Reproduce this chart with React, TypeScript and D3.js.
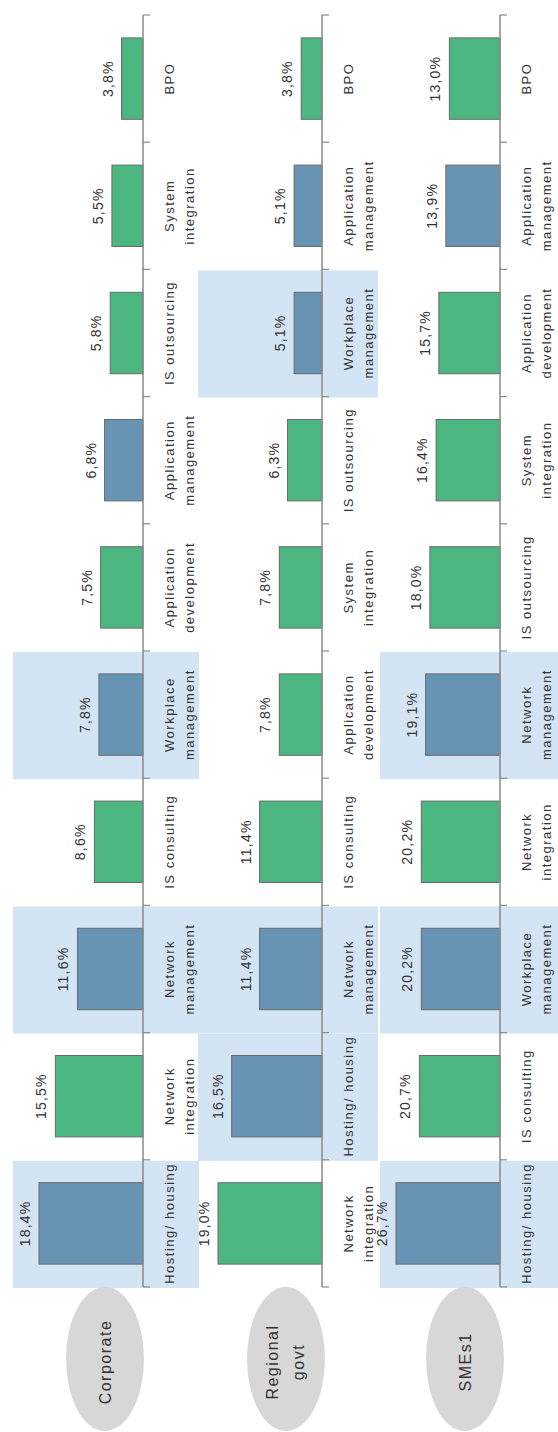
import React from "react";
import * as d3 from "d3";

// Data (ordered bottom -> top as drawn, i.e. left -> right in the unrotated chart)
const corporateCategories = [
  "Hosting/ housing",
  "Network integration",
  "Network management",
  "IS consulting",
  "Workplace management",
  "Application development",
  "Application management",
  "IS outsourcing",
  "System integration",
  "BPO",
];
const corporateValues = [18.4, 15.5, 11.6, 8.6, 7.8, 7.5, 6.8, 5.8, 5.5, 3.8];

const regionalCategories = [
  "Network integration",
  "Hosting/ housing",
  "Network management",
  "IS consulting",
  "Application development",
  "System integration",
  "IS outsourcing",
  "Workplace management",
  "Application management",
  "BPO",
];
const regionalValues = [19.0, 16.5, 11.4, 11.4, 7.8, 7.8, 6.3, 5.1, 5.1, 3.8];

const smeCategories = [
  "Hosting/ housing",
  "IS consulting",
  "Workplace management",
  "Network integration",
  "Network management",
  "IS outsourcing",
  "System integration",
  "Application development",
  "Application management",
  "BPO",
];
const smeValues = [26.7, 20.7, 20.2, 20.2, 19.1, 18.0, 16.4, 15.7, 13.9, 13.0];

const panelNames = [["Corporate"], ["Regional", "govt"], ["SMEs1"]];

const blueCategories = [
  "Hosting/ housing",
  "Network management",
  "Workplace management",
  "Application management",
];
const highlightedCategories = [
  "Hosting/ housing",
  "Network management",
  "Workplace management",
];

const labelLines: Record<string, string[]> = {
  "Hosting/ housing": ["Hosting/ housing"],
  "Network integration": ["Network", "integration"],
  "Network management": ["Network", "management"],
  "IS consulting": ["IS consulting"],
  "Workplace management": ["Workplace", "management"],
  "Application development": ["Application", "development"],
  "Application management": ["Application", "management"],
  "IS outsourcing": ["IS outsourcing"],
  "System integration": ["System", "integration"],
  BPO: ["BPO"],
};

// Layout
const W = 558;
const H = 1432;
const axisTop = 15;
const axisBottom = 1287;
const panelAxisX = [143, 322, 500];
const hlLeft = [13, 198, 380];
const hlRight = [199, 378, 558];
const barMaxLen = 104;

const BLUE = "#6794b4";
const GREEN = "#4bb67f";
const HL = "#d3e4f4";
const ELL = "#d7d7d7";
const TXT = "#333333";
const AX = "#8a8a8a";
const FONT = "'Liberation Sans', Arial, sans-serif";

const fmt = (v: number) => d3.format(".1f")(v).replace(".", ",") + "%";

function Panel({ idx, cats, vals }: { idx: number; cats: string[]; vals: number[] }) {
  const ax = panelAxisX[idx];
  const band = d3
    .scaleBand<number>()
    .domain(d3.range(cats.length))
    .range([axisBottom, axisTop])
    .padding(0);
  const bw = band.bandwidth();
  const barW = bw * 0.64;
  const x = d3.scaleLinear().domain([0, d3.max(vals) as number]).range([0, barMaxLen]);
  const boundaries = d3.range(cats.length + 1).map((i) => axisBottom - i * bw);

  return (
    <g>
      {cats.map((c, i) =>
        highlightedCategories.includes(c) ? (
          <rect
            key={"hl" + i}
            x={hlLeft[idx]}
            y={band(i)! + 1}
            width={hlRight[idx] - hlLeft[idx]}
            height={bw}
            fill={HL}
          />
        ) : null
      )}
      {cats.map((c, i) => {
        const len = x(vals[i]);
        const yc = band(i)! + bw / 2;
        return (
          <g key={"b" + i}>
            <rect
              x={ax - len}
              y={yc - barW / 2}
              width={len}
              height={barW}
              fill={blueCategories.includes(c) ? BLUE : GREEN}
              stroke="#6a6a6a"
              strokeWidth={1}
            />
            <text
              transform={`translate(${ax - len - 9},${yc}) rotate(-90)`}
              textAnchor="middle"
              fontSize={14}
              letterSpacing={1.2}
              fill={TXT}
              fontFamily={FONT}
            >
              {fmt(vals[i])}
            </text>
            <text
              transform={`translate(${ax + 31},${yc}) rotate(-90)`}
              textAnchor="middle"
              fontSize={13}
              letterSpacing={1.5}
              fill={TXT}
              fontFamily={FONT}
            >
              {labelLines[c].map((l, k) => (
                <tspan key={k} x={0} dy={k === 0 ? 0 : 20}>
                  {l}
                </tspan>
              ))}
            </text>
          </g>
        );
      })}
      <line x1={ax} x2={ax} y1={axisTop} y2={axisBottom} stroke={AX} strokeWidth={1.5} />
      {boundaries.map((b, i) => (
        <line key={"t" + i} x1={ax} x2={ax + 7} y1={b} y2={b} stroke={AX} strokeWidth={1.2} />
      ))}
    </g>
  );
}

export default function App() {
  const ellCx = [105, 286, 465];
  const ellCy = 1359;
  return (
    <svg
      width={W}
      height={H}
      viewBox={`0 0 ${W} ${H}`}
      style={{ position: "absolute", left: 0, top: 0, background: "#fff" }}
    >
      <rect x={0} y={0} width={W} height={H} fill="#fff" />
      <Panel idx={0} cats={corporateCategories} vals={corporateValues} />
      <Panel idx={1} cats={regionalCategories} vals={regionalValues} />
      <Panel idx={2} cats={smeCategories} vals={smeValues} />
      {panelNames.map((lines, i) => (
        <g key={"e" + i}>
          <ellipse cx={ellCx[i]} cy={ellCy} rx={39} ry={72} fill={ELL} />
          <text
            transform={`translate(${ellCx[i] + (lines.length > 1 ? -8 : 6)},${ellCy + 3}) rotate(-90)`}
            textAnchor="middle"
            fontSize={16}
            letterSpacing={1.5}
            fill={TXT}
            fontFamily={FONT}
          >
            {lines.map((l, k) => (
              <tspan key={k} x={0} dy={k === 0 ? 0 : 26}>
                {l}
              </tspan>
            ))}
          </text>
        </g>
      ))}
    </svg>
  );
}
